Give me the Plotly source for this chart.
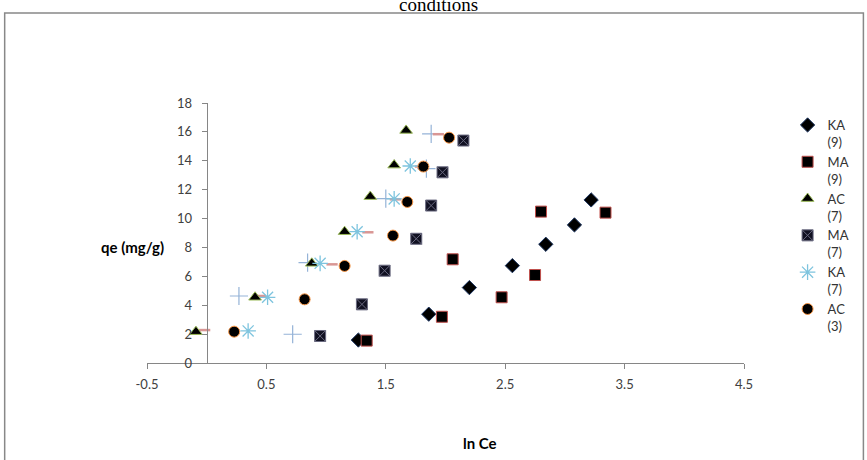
import plotly.graph_objects as go

# ---- data ----
ka9_x = [1.27, 1.86, 2.20, 2.56, 2.84, 3.08, 3.22]
ka9_y = [1.59, 3.38, 5.22, 6.74, 8.22, 9.56, 11.29]

ma9_x = [1.34, 1.97, 2.47, 2.75, 2.06, 3.34, 2.80]
ma9_y = [1.55, 3.20, 4.55, 6.09, 7.18, 10.41, 10.48]

ac7_x = [-0.09, 0.405, 0.88, 1.155, 1.37, 1.57, 1.67]
ac7_y = [2.17, 4.55, 6.90, 9.09, 11.52, 13.70, 16.10]

ma7_x = [0.95, 1.30, 1.49, 1.755, 1.88, 1.975, 2.15]
ma7_y = [1.87, 4.06, 6.39, 8.60, 10.90, 13.20, 15.40]

ka7_x = [0.347, 0.51, 0.95, 1.26, 1.57, 1.705]
ka7_y = [2.22, 4.55, 6.90, 9.09, 11.36, 13.64]

ac3_x = [0.23, 0.82, 1.155, 1.56, 1.68, 1.815, 2.03]
ac3_y = [2.17, 4.41, 6.72, 8.82, 11.15, 13.60, 15.60]

plus_x = [0.72, 0.27, 0.845, 1.50, 1.84, 1.88]
plus_y = [1.99, 4.64, 6.95, 11.38, 13.45, 15.86]

dash_x = [-0.017, 0.45, 1.05, 1.35, 1.58, 1.79, 1.94]
dash_y = [2.28, 4.64, 6.83, 9.05, 11.33, 13.60, 15.84]

x_tick_vals = [-0.5, 0.5, 1.5, 2.5, 3.5, 4.5]
x_tick_text = ["-0.5", "0.5", "1.5", "2.5", "3.5", "4.5"]
y_tick_vals = [0, 2, 4, 6, 8, 10, 12, 14, 16, 18]

fig = go.Figure()

fig.add_trace(go.Scatter(x=plus_x, y=plus_y, mode="markers", showlegend=False,
                         marker=dict(symbol="cross-thin-open", size=13, color="#95b3d7",
                                     line=dict(color="#95b3d7", width=1.2))))
fig.add_trace(go.Scatter(x=dash_x, y=dash_y, mode="markers", showlegend=False,
                         marker=dict(symbol="line-ew-open", size=8, color="#d99694",
                                     line=dict(color="#d99694", width=2.5))))

fig.add_trace(go.Scatter(x=ka9_x, y=ka9_y, mode="markers", name="KA<br>(9)",
                         marker=dict(symbol="diamond", size=11, color="#000000",
                                     line=dict(color="#1f3864", width=1))))
fig.add_trace(go.Scatter(x=ma9_x, y=ma9_y, mode="markers", name="MA<br>(9)",
                         marker=dict(symbol="square", size=11, color="#000000",
                                     line=dict(color="#c0504d", width=1))))
fig.add_trace(go.Scatter(x=ac7_x, y=ac7_y, mode="markers", name="AC<br>(7)",
                         marker=dict(symbol="triangle-up", size=11, color="#000000",
                                     line=dict(color="#9bbb59", width=1))))
fig.add_trace(go.Scatter(x=ma7_x, y=ma7_y, mode="markers", name="MA<br>(7)",
                         marker=dict(symbol="square-x", size=11, color="#111122",
                                     line=dict(color="#6a6a80", width=1))))
fig.add_trace(go.Scatter(x=ka7_x, y=ka7_y, mode="markers", name="KA<br>(7)",
                         marker=dict(symbol="asterisk-open", size=13, color="#7ec4de",
                                     line=dict(color="#7ec4de", width=1.3))))
fig.add_trace(go.Scatter(x=ac3_x, y=ac3_y, mode="markers", name="AC<br>(3)",
                         marker=dict(symbol="circle", size=11, color="#000000",
                                     line=dict(color="#f79646", width=1))))

fig.update_layout(
    width=867, height=460,
    margin=dict(l=147, r=116, t=103, b=97),
    paper_bgcolor="white", plot_bgcolor="white",
    font=dict(family="Lato, Liberation Sans, sans-serif", color="#404040"),
    xaxis=dict(range=[-0.5, 4.5], tickvals=x_tick_vals, ticktext=x_tick_text,
               showgrid=False, zeroline=False, showline=True, linecolor="#868686",
               linewidth=1, ticks="outside", ticklen=5, tickcolor="#868686",
               ticklabelstandoff=4,
               tickfont=dict(size=13, color="#404040"), domain=[0, 1]),
    yaxis=dict(range=[0, 18], tickvals=y_tick_vals, anchor="free", position=0.1,
               showgrid=False, zeroline=False, showline=True, linecolor="#868686",
               linewidth=1, ticks="outside", ticklen=5, tickcolor="#868686",
               ticklabelstandoff=7,
               tickfont=dict(size=13, color="#404040")),
    legend=dict(x=1.073, y=0.973, xanchor="left", yanchor="top",
                valign="top", itemwidth=30, tracegroupgap=0,
                font=dict(size=13, color="#333333"),
                bgcolor="rgba(0,0,0,0)"),
    showlegend=True,
)

fig.add_annotation(text="<b>qe (mg/g)</b>", xref="paper", yref="paper",
                   x=-0.0248, y=0.446, xanchor="center", yanchor="middle",
                   showarrow=False,
                   font=dict(size=15, color="#000000",
                             family="Lato, Liberation Sans, sans-serif"))
fig.add_annotation(text="<b>ln Ce</b>", xref="paper", yref="paper",
                   x=0.558, y=-0.308, xanchor="center", yanchor="middle",
                   showarrow=False,
                   font=dict(size=15, color="#000000",
                             family="Lato, Liberation Sans, sans-serif"))
fig.add_annotation(text="conditions", xref="paper", yref="paper",
                   x=0.488, y=1.331, xanchor="center", yanchor="bottom", showarrow=False,
                   font=dict(size=19, color="#000000",
                             family="Liberation Serif, Times New Roman, serif"))

fig.add_shape(type="rect", xref="paper", yref="paper",
              x0=-0.2384, x1=1.2, y0=-0.45, y1=1.346,
              line=dict(color="#888888", width=1.5), fillcolor="rgba(0,0,0,0)",
              layer="below")

fig.write_html("out.html")
